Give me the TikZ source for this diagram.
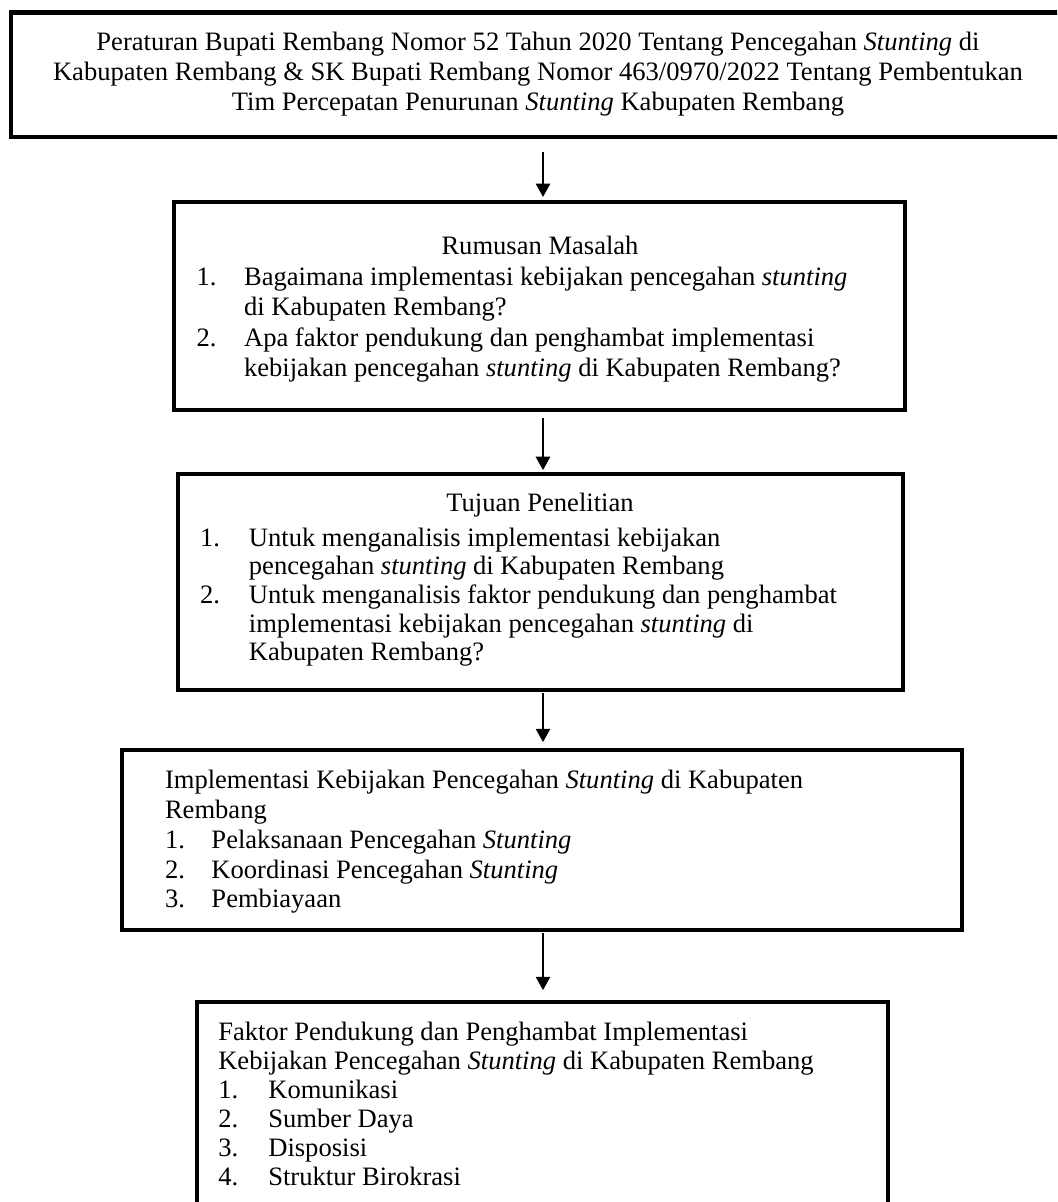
\documentclass[tikz,border=0pt]{standalone}
\usepackage{fontspec}
\setmainfont{Liberation Serif}
\usetikzlibrary{arrows.meta,fit}
\begin{document}
\begin{tikzpicture}[x=0.4517pt,y=-0.4517pt,
  box/.style={draw,line width=2pt,inner sep=0pt,outer sep=0pt,rectangle},
  arr/.style={line width=0.75pt,-{Triangle[length=6pt,width=6.5pt]}},
  txt/.style={inner sep=0pt,outer sep=0pt,anchor=base west,font=\fontsize{12pt}{#1}\selectfont},
  head/.style={inner sep=0pt,outer sep=0pt,anchor=base,font=\fontsize{12pt}{13.5pt}\selectfont}]
\useasboundingbox (0,0) rectangle (1057,1202);
\clip (0,0) rectangle (1057,1202);

% boxes
\node[box, fit={(11,12.5) (1066,137)}] (b1) {};
\node[box, fit={(174,202) (905,410)}] (b2) {};
\node[box, fit={(178,474) (903,690)}] (b3) {};
\node[box, fit={(122,750) (962,930)}] (b4) {};
\node[box, fit={(197,1002) (888,1215)}] (b5) {};

% texts
\node[txt=13.42pt, anchor=base] (t1) at (538,50.7) {\parbox[t]{460pt}{\centering
Peraturan Bupati Rembang Nomor 52 Tahun 2020 Tentang Pencegahan \textit{Stunting} di\\
Kabupaten Rembang \& SK Bupati Rembang Nomor 463/0970/2022 Tentang Pembentukan\\
Tim Percepatan Penurunan \textit{Stunting} Kabupaten Rembang}};

\node[head] (h2) at (540,255) {Rumusan Masalah};
\node[txt=13.78pt] (t2) at (196.7,285) {\parbox[t]{330pt}{\raggedright
\makebox[21.4pt][l]{1.}Bagaimana implementasi kebijakan pencegahan \textit{stunting}\\
\hspace*{21.4pt}di Kabupaten Rembang?\\
\makebox[21.4pt][l]{2.}Apa faktor pendukung dan penghambat implementasi\\
\hspace*{21.4pt}kebijakan pencegahan \textit{stunting} di Kabupaten Rembang?}};

\node[head] (h3) at (540,511) {Tujuan Penelitian};
\node[txt=12.96pt] (t3) at (200,546) {\parbox[t]{330pt}{\raggedright
\makebox[22.1pt][l]{1.}Untuk menganalisis implementasi kebijakan\\
\hspace*{22.1pt}pencegahan \textit{stunting} di Kabupaten Rembang\\
\makebox[22.1pt][l]{2.}Untuk menganalisis faktor pendukung dan penghambat\\
\hspace*{22.1pt}implementasi kebijakan pencegahan \textit{stunting} di\\
\hspace*{22.1pt}Kabupaten Rembang?}};

\node[txt=13.55pt] (t4) at (165,788) {\parbox[t]{340pt}{\raggedright
Implementasi Kebijakan Pencegahan \textit{Stunting} di Kabupaten\\
Rembang\\
\makebox[21pt][l]{1.}Pelaksanaan Pencegahan \textit{Stunting}\\
\makebox[21pt][l]{2.}Koordinasi Pencegahan \textit{Stunting}\\
\makebox[21pt][l]{3.}Pembiayaan}};

\node[txt=13.1pt] (t5) at (218.3,1040) {\parbox[t]{320pt}{\raggedright
Faktor Pendukung dan Penghambat Implementasi\\
Kebijakan Pencegahan \textit{Stunting} di Kabupaten Rembang\\
\makebox[22.6pt][l]{1.}Komunikasi\\
\makebox[22.6pt][l]{2.}Sumber Daya\\
\makebox[22.6pt][l]{3.}Disposisi\\
\makebox[22.6pt][l]{4.}Struktur Birokrasi}};

% connectors
\coordinate (ax) at (543,0);
\draw[arr, shorten <=7pt, shorten >=2.3pt] (b1.south -| ax) -- (b2.north -| ax);
\draw[arr, shorten <=3.6pt, shorten >=1.8pt] (b2.south -| ax) -- (b3.north -| ax);
\draw[arr, shorten <=1.4pt, shorten >=3.6pt] (b3.south -| ax) -- (b4.north -| ax);
\draw[arr, shorten <=1.4pt, shorten >=5.4pt] (b4.south -| ax) -- (b5.north -| ax);
\end{tikzpicture}
\end{document}
